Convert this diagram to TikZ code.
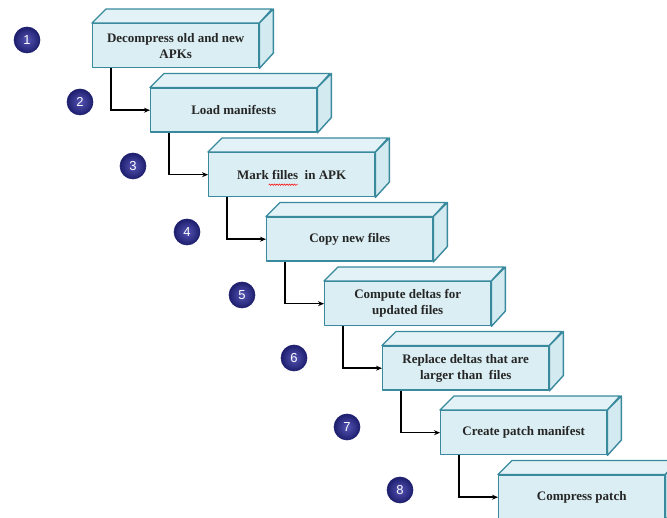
\documentclass[tikz,border=0pt]{standalone}
\usepackage{fontspec}
\setmainfont{Liberation Serif}
\setsansfont{Liberation Sans}
\usetikzlibrary{arrows.meta,calc,decorations.pathmorphing}
\definecolor{boxfill}{HTML}{DAEEF3}
\definecolor{topfill}{HTML}{E2F2F6}
\definecolor{sidefill}{HTML}{D3EAF0}
\definecolor{boxline}{HTML}{3A8A9E}
\definecolor{textc}{HTML}{262626}
\definecolor{ballin}{HTML}{5454B4}
\definecolor{ballout}{HTML}{1E1E6E}
\tikzset{
  face/.style={draw=boxline, line width=1.4pt, line join=round},
  frontbox/.style={face, fill=boxfill, minimum width=166pt, minimum height=44pt,
    inner sep=0pt, align=center, anchor=north west,
    font=\fontsize{13}{16}\selectfont\bfseries, text=textc},
  ball/.style={circle, minimum size=26pt, inner sep=0pt, draw=ballout, line width=0.6pt,
    inner color=ballin, outer color=ballout, text=white,
    font=\sffamily\fontsize{13}{13}\selectfont},
  link/.style={draw=black, line width=1.4pt, -{Stealth[length=6pt,width=5pt]}}
}
\begin{document}
\begin{tikzpicture}[x=1pt,y=-1pt]
\useasboundingbox (0,0) rectangle (667,518);
\node[frontbox] (b1) at (92,23) {Decompress old and new\\APKs};
\node[frontbox] (b2) at (150,87.5) {Load manifests};
\node[frontbox] (b3) at (208,152) {Mark filles\ \ in APK};
\node[frontbox] (b4) at (266,216.5) {Copy new files};
\node[frontbox] (b5) at (324,281) {Compute deltas for\\updated files};
\node[frontbox] (b6) at (382,345.5) {Replace deltas that are\\larger than\ \ files};
\node[frontbox] (b7) at (440,410) {Create patch manifest};
\node[frontbox] (b8) at (498,474.5) {Compress patch};
\foreach \b in {b1,b2,b3,b4,b5,b6,b7,b8}{
  \draw[face, fill=topfill] (\b.north west) -- ++(14,-14) -- ++(166,0) -- (\b.north east) -- cycle;
  \draw[face, fill=sidefill] (\b.north east) -- ++(14,-14) -- ++(0,44) -- (\b.south east) -- cycle;
}
\draw[red, line width=0.5pt, decorate, decoration={snake, segment length=2.5pt, amplitude=0.7pt}]
  ($(b3.center)+(-23,10)$) -- ($(b3.center)+(6,10)$);
\node[ball] (c1) at (27,40) {1};
\node[ball] (c2) at (80,102) {2};
\node[ball] (c3) at (133,166) {3};
\node[ball] (c4) at (187,232) {4};
\node[ball] (c5) at (242,295) {5};
\node[ball] (c6) at (294,358) {6};
\node[ball] (c7) at (347,427) {7};
\node[ball] (c8) at (400,490) {8};
\draw[link] ([xshift=19pt]b1.south west) |- (b2.west);
\draw[link] ([xshift=19pt]b2.south west) |- (b3.west);
\draw[link] ([xshift=19pt]b3.south west) |- (b4.west);
\draw[link] ([xshift=19pt]b4.south west) |- (b5.west);
\draw[link] ([xshift=19pt]b5.south west) |- (b6.west);
\draw[link] ([xshift=19pt]b6.south west) |- (b7.west);
\draw[link] ([xshift=19pt]b7.south west) |- (b8.west);
\end{tikzpicture}
\end{document}
